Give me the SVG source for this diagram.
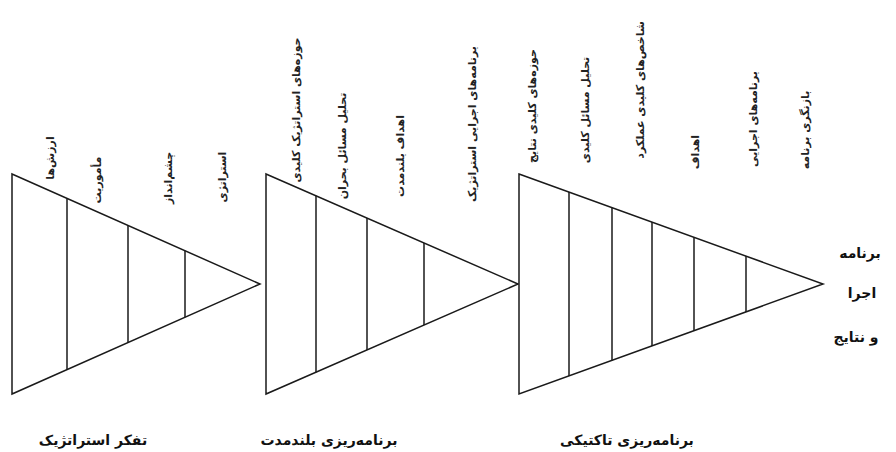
<svg xmlns="http://www.w3.org/2000/svg" width="896" height="452" viewBox="0 0 896 452">
<style>
.tri{fill:#fff;stroke:#1a1a1a;stroke-width:1.5;stroke-linejoin:miter}
.div{stroke:#1a1a1a;stroke-width:1.5}
.v{font-family:"DejaVu Sans",sans-serif;font-size:11px;font-weight:bold;fill:#222;text-anchor:middle;dominant-baseline:central}
.b{font-family:"DejaVu Sans",sans-serif;font-size:14px;font-weight:bold;fill:#111;text-anchor:middle}
</style>
<rect width="896" height="452" fill="#fff"/>
<g id="connectors"></g>
<g id="strategic-thinking">
<polygon class="tri" points="12,174 260,284 12,394"/>
<line class="div" x1="67" y1="198.4" x2="67" y2="369.6"/>
<line class="div" x1="128" y1="225.5" x2="128" y2="342.5"/>
<line class="div" x1="185" y1="250.7" x2="185" y2="317.3"/>
<text class="v" transform="translate(50,158) rotate(-90)">ارزش&#8204;ها</text>
<text class="v" transform="translate(97,180) rotate(-90)">مأموریت</text>
<text class="v" transform="translate(168,178) rotate(-90)">چشم&#8204;انداز</text>
<text class="v" transform="translate(222,177) rotate(-90)">استراتژی</text>
<text class="b" x="93" y="445">تفکر استراتژیک</text>
</g>
<g id="long-term-planning">
<polygon class="tri" points="266,174 518,284 266,394"/>
<line class="div" x1="316" y1="195.8" x2="316" y2="372.2"/>
<line class="div" x1="367" y1="218.1" x2="367" y2="349.9"/>
<line class="div" x1="424" y1="243" x2="424" y2="325"/>
<text class="v" transform="translate(296,110) rotate(-90)">حوزه&#8204;های استراتژیک کلیدی</text>
<text class="v" transform="translate(342,146) rotate(-90)">تحلیل مسائل بحران</text>
<text class="v" transform="translate(400,156) rotate(-90)">اهداف بلندمدت</text>
<text class="v" transform="translate(472,124) rotate(-90)">برنامه&#8204;های اجرایی استراتژیک</text>
<text class="b" x="329" y="445">برنامه&#8204;ریزی بلندمدت</text>
</g>
<g id="tactical-planning">
<polygon class="tri" points="519,174 823,284 519,394"/>
<line class="div" x1="569" y1="192.1" x2="569" y2="375.9"/>
<line class="div" x1="612" y1="207.7" x2="612" y2="360.3"/>
<line class="div" x1="652" y1="222.1" x2="652" y2="345.9"/>
<line class="div" x1="694" y1="237.3" x2="694" y2="330.7"/>
<line class="div" x1="746" y1="256.1" x2="746" y2="311.9"/>
<text class="v" transform="translate(532,106) rotate(-90)">حوزه&#8204;های کلیدی نتایج</text>
<text class="v" transform="translate(585,110) rotate(-90)">تحلیل مسائل کلیدی</text>
<text class="v" transform="translate(640,90) rotate(-90)">شاخص&#8204;های کلیدی عملکرد</text>
<text class="v" transform="translate(695,152) rotate(-90)">اهداف</text>
<text class="v" transform="translate(753,119) rotate(-90)">برنامه&#8204;های اجرایی</text>
<text class="v" transform="translate(805,130) rotate(-90)">بازنگری برنامه</text>
<text class="b" x="627" y="445">برنامه&#8204;ریزی تاکتیکی</text>
</g>
<g id="result">
<text class="b" x="860" y="258">برنامه</text>
<text class="b" x="862" y="298">اجرا</text>
<text class="b" x="856" y="342">و نتایج</text>
</g>
</svg>
